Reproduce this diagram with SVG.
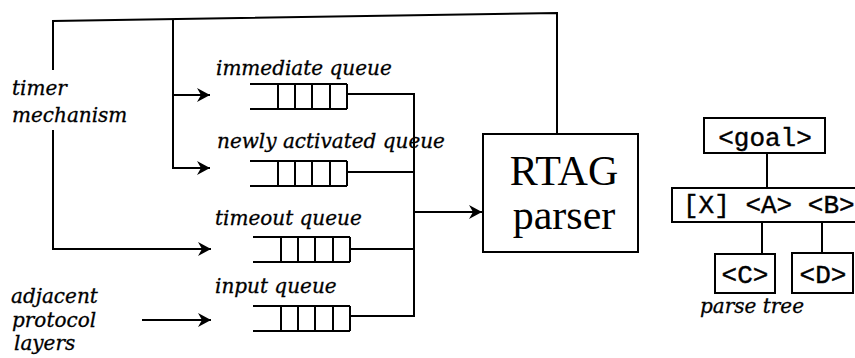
<svg xmlns="http://www.w3.org/2000/svg" xmlns:xlink="http://www.w3.org/1999/xlink" width="855" height="358" viewBox="0 0 855 358">
<style>
.ln{fill:none;stroke:#000;stroke-width:2}
.box{fill:#fff;stroke:#000;stroke-width:2}
.it{font-family:"DejaVu Serif","Liberation Serif",serif;font-style:italic;font-size:20px;fill:#000;stroke:#000;stroke-width:0.3}
.big{font-family:"Liberation Serif","Times New Roman",serif;font-size:42px;fill:#000}
.mono{font-family:"Liberation Mono","Courier New",monospace;font-size:26px;fill:#000;stroke:#000;stroke-width:0.4}
</style>
<defs>
<marker id="ah" markerUnits="userSpaceOnUse" markerWidth="14" markerHeight="14" refX="13" refY="7" orient="auto">
<path d="M0,0 L13,7 L0,14 L4,7 z" fill="#000"/>
</marker>
<path id="qshape" class="ln" d="M0,0 H97 M0,25 H97 M28,0 V25 M45,0 V25 M62,0 V25 M80,0 V25 M97,0 V25"/>
</defs>
<g id="connectors">
<polyline class="ln" points="53,70 53,21 557,13 557,134"/>
<polyline class="ln" points="53,130 53,249 211,249" marker-end="url(#ah)"/>
<polyline class="ln" points="173,19 173,95 210,95" marker-end="url(#ah)"/>
<polyline class="ln" points="173,95 173,168 210,168" marker-end="url(#ah)"/>
<line class="ln" x1="142" y1="320" x2="211" y2="320" marker-end="url(#ah)"/>
<polyline class="ln" points="347,94 414,94 414,316 350,316"/>
<line class="ln" x1="347" y1="172" x2="414" y2="172"/>
<line class="ln" x1="350" y1="249" x2="414" y2="249"/>
<line class="ln" x1="414" y1="212" x2="482" y2="212" marker-end="url(#ah)"/>
<line class="ln" x1="767" y1="153" x2="767" y2="188"/>
<line class="ln" x1="762" y1="222" x2="762" y2="254"/>
<line class="ln" x1="822" y1="222" x2="822" y2="253"/>
</g>
<g id="timer">
<text class="it" x="12" y="95">timer</text>
<text class="it" x="12" y="122">mechanism</text>
</g>
<g id="adjacent">
<text class="it" x="11" y="303">adjacent</text>
<text class="it" x="12" y="327">protocol</text>
<text class="it" x="14" y="350">layers</text>
</g>
<g id="immediate-queue">
<text class="it" x="216" y="75">immediate queue</text>
<use xlink:href="#qshape" x="250" y="84"/>
</g>
<g id="newly-activated-queue">
<text class="it" x="217" y="148">newly activated queue</text>
<use xlink:href="#qshape" x="250" y="161"/>
</g>
<g id="timeout-queue">
<text class="it" x="215" y="225">timeout queue</text>
<use xlink:href="#qshape" x="253" y="237"/>
</g>
<g id="input-queue">
<text class="it" x="215" y="293">input queue</text>
<use xlink:href="#qshape" x="253" y="306"/>
</g>
<g id="rtag-parser">
<rect class="box" x="483" y="134" width="155" height="118"/>
<text class="big" x="564" y="185" text-anchor="middle">RTAG</text>
<text class="big" x="564" y="229" text-anchor="middle">parser</text>
</g>
<g id="goal">
<rect class="box" x="704" y="118" width="121" height="35"/>
<text class="mono" x="765" y="146" text-anchor="middle">&lt;goal&gt;</text>
</g>
<g id="xab">
<rect class="box" x="672" y="188" width="192" height="34"/>
<text class="mono" x="683" y="213">[X] &lt;A&gt; &lt;B&gt;</text>
</g>
<g id="c">
<rect class="box" x="715" y="254" width="60" height="39"/>
<text class="mono" x="745" y="283" text-anchor="middle">&lt;C&gt;</text>
</g>
<g id="d">
<rect class="box" x="792" y="253" width="61" height="40"/>
<text class="mono" x="823" y="283" text-anchor="middle">&lt;D&gt;</text>
</g>
<g id="parse-tree-label">
<text class="it" x="700" y="313">parse tree</text>
</g>
</svg>
